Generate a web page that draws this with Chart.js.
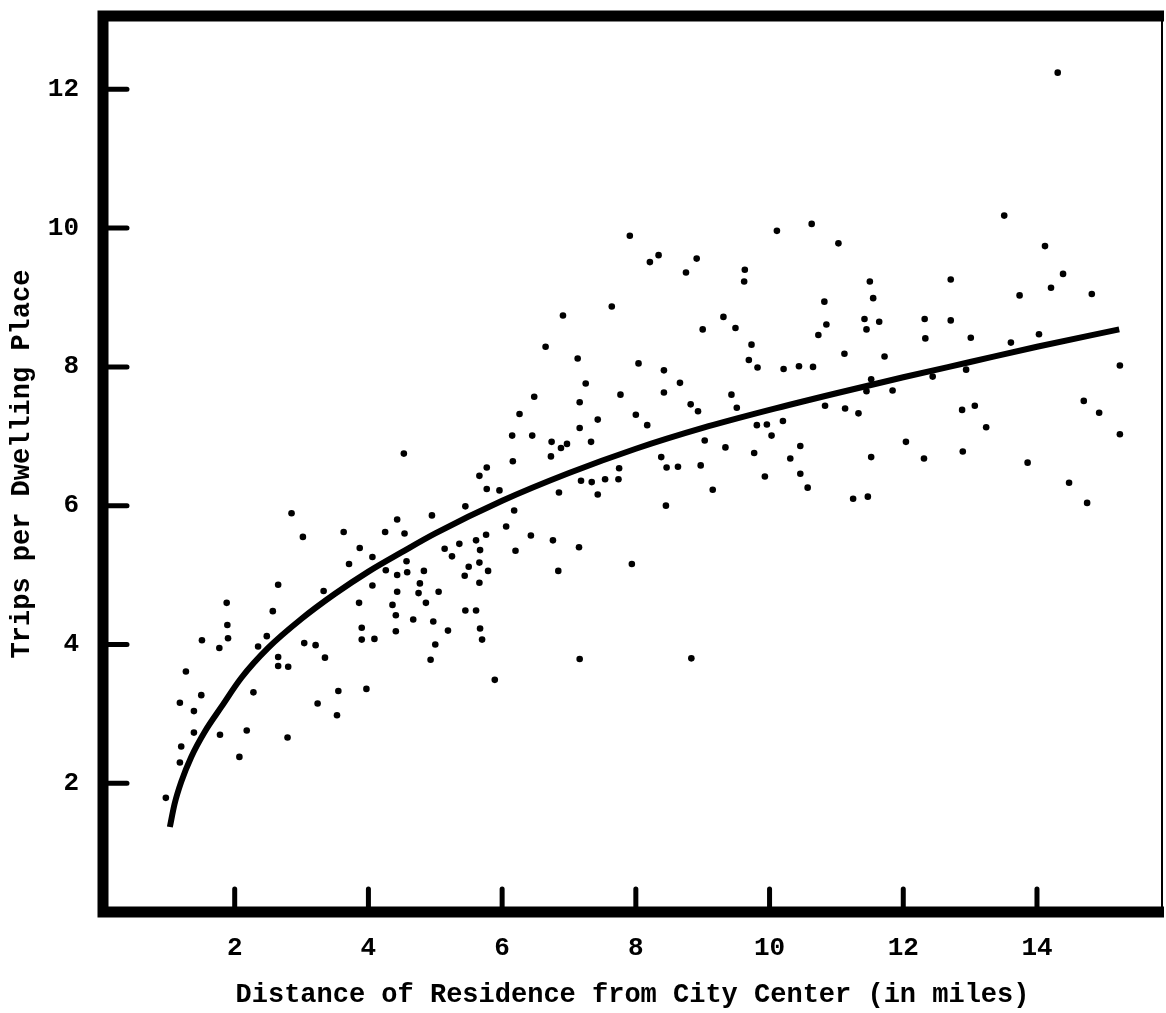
<!DOCTYPE html>
<html>
<head>
<meta charset="utf-8">
<script src="https://cdn.jsdelivr.net/npm/chart.js@4.4.0/dist/chart.umd.min.js"></script>
<style>
  html, body { margin: 0; padding: 0; background: #fff; }
</style>
</head>
<body>
<canvas id="chart" width="1166" height="1013"></canvas>
<script>
// observed households: distance from centre (miles) and trips per dwelling place
const distance = [
  2.85, 3.02, 3.63, 4.25, 4.43, 3.87, 4.06, 3.71, 4.26, 4.43,
  2.65, 3.33, 4.06, 4.43, 1.88, 3.86, 4.36, 4.41, 2.57, 1.89,
  3.90, 1.90, 2.48, 1.51, 1.77, 2.35, 3.04, 3.21, 3.90, 4.09,
  4.41, 2.65, 2.65, 2.80, 3.35, 1.27, 2.28, 1.50, 1.18, 3.55,
  3.97, 1.39, 3.24, 3.53, 1.39, 1.78, 2.18, 2.79, 1.20, 2.07,
  1.18, 0.97,
  7.16, 6.26, 7.43, 7.16, 6.15, 6.45, 6.74, 6.97, 6.88, 7.33,
  4.53, 6.73, 6.16, 5.77, 5.66, 5.77, 5.96, 7.18, 7.34, 6.85,
  7.43, 5.45, 6.18, 4.95, 6.06, 4.54, 5.76, 6.43, 6.76, 5.14,
  5.36, 5.61, 5.67, 6.20, 7.15, 5.25, 4.57, 5.66, 5.50, 4.58,
  4.83, 5.44, 5.79, 6.84, 4.77, 5.66, 4.75, 5.05, 4.86, 5.45,
  5.61, 4.67, 4.97, 5.19, 5.67, 5.00, 5.70, 4.93, 7.16, 5.89,
  8.83,
  7.64, 6.91, 9.31, 9.00, 9.49, 6.65, 9.73, 7.13, 8.04, 9.69,
  9.82, 8.42, 7.25, 8.66, 8.42, 6.48, 7.77, 9.43, 8.82, 8.93,
  9.51, 8.00, 8.17, 9.81, 9.96, 10.03, 9.03, 9.34, 9.77, 8.38,
  7.75, 8.46, 8.63, 8.97, 9.93, 7.54, 7.74, 9.15, 8.45, 7.94,
  10.63, 10.11, 11.03, 8.91, 8.75, 9.63, 9.62, 11.50, 12.71, 11.55,
  10.82, 10.85, 11.42, 11.45, 11.64, 12.32, 12.71, 12.33, 13.01, 10.73,
  11.12, 11.72, 10.21, 10.44, 10.65, 11.52, 11.45, 11.84, 12.44, 12.94,
  10.83, 11.13, 11.33, 12.88, 13.07, 10.20, 12.04, 10.46, 10.31, 11.52,
  12.31, 12.89, 10.46, 10.57, 11.25, 11.47,
  13.51, 14.12, 14.39, 14.21, 13.74, 14.82, 13.61, 14.03, 15.24, 14.70,
  14.93, 13.24, 15.24, 13.86, 14.48,
  14.31, 14.75, 7.91, 8.21, 8.34
];
const trips = [
  5.89, 5.55, 5.62, 5.62, 5.80, 5.39, 5.26, 5.16, 5.07, 5.00,
  4.86, 4.77, 4.85, 4.76, 4.60, 4.60, 4.57, 4.42, 4.48, 4.28,
  4.24, 4.09, 4.12, 4.06, 3.95, 3.97, 4.02, 3.99, 4.07, 4.08,
  4.19, 3.82, 3.69, 3.68, 3.81, 3.61, 3.31, 3.27, 3.16, 3.33,
  3.36, 3.04, 3.15, 2.98, 2.73, 2.70, 2.76, 2.66, 2.53, 2.38,
  2.30, 1.79,
  7.49, 7.32, 7.24, 7.12, 7.01, 7.01, 6.92, 6.89, 6.83, 6.92,
  6.75, 6.71, 6.64, 6.55, 6.43, 6.24, 6.22, 6.36, 6.34, 6.19,
  6.16, 5.99, 5.93, 5.86, 5.70, 5.60, 5.58, 5.57, 5.50, 5.38,
  5.45, 5.50, 5.36, 5.35, 5.40, 5.27, 5.20, 5.18, 5.12, 5.04,
  5.06, 4.99, 5.06, 5.06, 4.88, 4.89, 4.74, 4.76, 4.60, 4.49,
  4.49, 4.36, 4.33, 4.20, 4.23, 4.00, 4.07, 3.78, 3.79, 3.49,
  3.80,
  8.87, 8.74, 8.72, 8.54, 8.56, 8.29, 8.32, 8.12, 8.05, 8.10,
  7.99, 7.95, 7.76, 7.77, 7.63, 7.57, 7.60, 7.60, 7.46, 7.36,
  7.41, 7.31, 7.16, 7.16, 7.17, 7.01, 6.94, 6.84, 6.76, 6.70,
  6.54, 6.55, 6.56, 6.58, 6.42, 6.38, 6.38, 6.23, 6.00, 5.16,
  10.06, 9.96, 9.78, 9.56, 9.36, 9.40, 9.23, 9.23, 9.26, 8.99,
  8.94, 8.61, 8.69, 8.54, 8.65, 8.69, 8.67, 8.41, 8.42, 8.46,
  8.19, 8.15, 7.97, 8.01, 8.00, 7.82, 7.65, 7.66, 7.86, 7.96,
  7.44, 7.40, 7.33, 7.38, 7.44, 7.22, 6.92, 6.86, 6.68, 6.70,
  6.68, 6.78, 6.46, 6.26, 6.10, 6.13,
  10.18, 9.74, 9.34, 9.14, 9.03, 9.05, 8.35, 8.47, 8.02, 7.51,
  7.34, 7.13, 7.03, 6.62, 6.33,
  12.24, 6.04, 9.89, 9.51, 9.61
];

// fitted curve
const curveDistance = [1.03, 1.10, 1.20, 1.35, 1.55, 1.80, 2.10, 2.50, 3.00, 3.50, 4.00, 4.50,
  5.00, 6.00, 7.00, 8.00, 9.00, 10.00, 11.00, 12.00, 13.00, 14.00, 15.23];
const curveTrips = [1.37, 1.70, 2.02, 2.38, 2.74, 3.10, 3.52, 3.95, 4.37, 4.73, 5.05, 5.33,
  5.60, 6.07, 6.47, 6.82, 7.12, 7.38, 7.62, 7.85, 8.07, 8.29, 8.54];

const xTicks = [2, 4, 6, 8, 10, 12, 14];
const yTicks = [2, 4, 6, 8, 10, 12];

const typeFace = "'Courier New', 'Liberation Mono', monospace";

// heavy frame on three sides, thin right edge, tick marks pointing inward
const framePlugin = {
  id: 'frame',
  afterDraw(chart) {
    const { ctx, chartArea: a, scales: { x, y } } = chart;
    ctx.save();
    ctx.strokeStyle = '#000';
    ctx.lineJoin = 'miter';
    ctx.lineWidth = 11;
    ctx.beginPath();
    ctx.moveTo(a.right + 2, a.top);
    ctx.lineTo(a.left, a.top);
    ctx.lineTo(a.left, a.bottom);
    ctx.lineTo(a.right + 2, a.bottom);
    ctx.stroke();

    ctx.lineWidth = 2;
    ctx.beginPath();
    ctx.moveTo(a.right, a.top);
    ctx.lineTo(a.right, a.bottom);
    ctx.stroke();

    ctx.lineWidth = 5;
    ctx.lineCap = 'round';
    ctx.beginPath();
    x.ticks.forEach(t => {
      const px = x.getPixelForValue(t.value);
      ctx.moveTo(px, a.bottom);
      ctx.lineTo(px, a.bottom - 23);
    });
    y.ticks.forEach(t => {
      const py = y.getPixelForValue(t.value);
      ctx.moveTo(a.left, py);
      ctx.lineTo(a.left + 24, py);
    });
    ctx.stroke();
    ctx.restore();
  }
};

new Chart(document.getElementById('chart'), {
  type: 'scatter',
  data: {
    datasets: [
      {
        label: 'Observed',
        data: distance.map((d, i) => ({ x: d, y: trips[i] })),
        backgroundColor: '#000',
        borderColor: '#000',
        pointRadius: 3.3,
        pointBorderWidth: 0
      },
      {
        label: 'Fitted',
        data: curveDistance.map((d, i) => ({ x: d, y: curveTrips[i] })),
        showLine: true,
        borderColor: '#000',
        borderWidth: 6,
        cubicInterpolationMode: 'monotone',
        pointRadius: 0,
        fill: false
      }
    ]
  },
  options: {
    responsive: false,
    animation: false,
    devicePixelRatio: 1,
    layout: { padding: { top: 16, right: 2, left: 0, bottom: 0 } },
    plugins: { legend: { display: false }, tooltip: { enabled: false } },
    scales: {
      x: {
        type: 'linear',
        min: 0.03,
        max: 15.87,
        afterBuildTicks: s => { s.ticks = xTicks.map(v => ({ value: v })); },
        afterFit: s => { s.height = 101; s.paddingLeft = 0; s.paddingRight = 0; },
        grid: { display: false },
        border: { display: false },
        ticks: { color: '#000', font: { family: typeFace, size: 26, weight: 'bold' }, padding: 13, maxRotation: 0, autoSkip: false },
        title: {
          display: true,
          text: 'Distance of Residence from City Center (in miles)',
          color: '#000',
          font: { family: typeFace, size: 27, weight: 'bold' },
          padding: { top: 0, bottom: 2 }
        }
      },
      y: {
        type: 'linear',
        min: 0.145,
        max: 13.056,
        afterBuildTicks: s => { s.ticks = yTicks.map(v => ({ value: v })); },
        afterFit: s => { s.width = 103; s.paddingTop = 0; s.paddingBottom = 0; },
        grid: { display: false },
        border: { display: false },
        ticks: { color: '#000', font: { family: typeFace, size: 26, weight: 'bold' }, padding: 16, autoSkip: false },
        title: {
          display: true,
          text: 'Trips per Dwelling Place',
          color: '#000',
          font: { family: typeFace, size: 27, weight: 'bold' },
          padding: { top: 6, bottom: 0 }
        }
      }
    }
  },
  plugins: [framePlugin]
});
</script>
</body>
</html>
